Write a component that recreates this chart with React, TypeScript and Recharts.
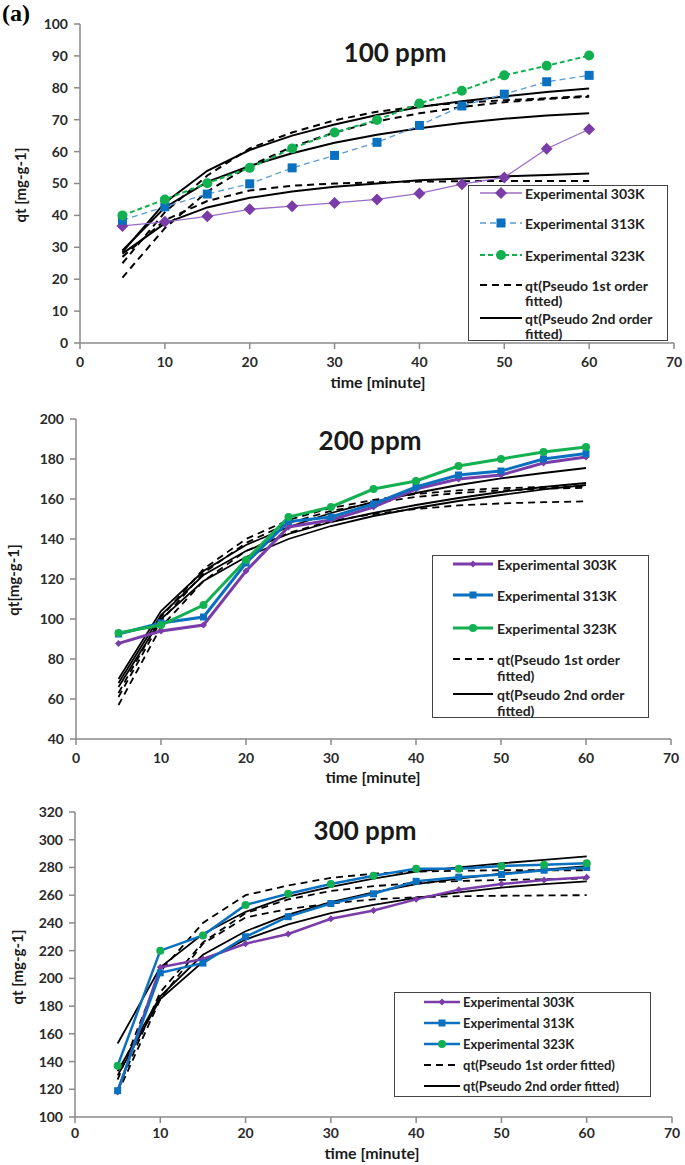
import React from 'react';
import { LineChart, Line, XAxis, YAxis } from 'recharts';

// sampling times (minute)
const TIME = [5, 10, 15, 20, 25, 30, 35, 40, 45, 50, 55, 60];
const X_TICKS = [0, 10, 20, 30, 40, 50, 60, 70];

// ---- 100 ppm ----
const P100_EXP_303 = [36.7, 38, 39.7, 41.9, 42.9, 43.9, 45, 46.9, 49.8, 51.9, 60.9, 67];
const P100_EXP_313 = [38.5, 42.7, 46.7, 49.9, 54.9, 58.8, 62.9, 68.2, 74.3, 78, 81.9, 83.9];
const P100_EXP_323 = [40, 45, 50.1, 54.9, 61, 66, 69.9, 75.1, 79.1, 83.9, 86.9, 90.1];
const P100_PFO_A = [27, 38.5, 44.5, 47.8, 49.3, 50, 50.4, 50.6, 50.7, 50.8, 50.8, 50.8];
const P100_PFO_B = [20.5, 36, 47.5, 55.5, 61.5, 66, 69.5, 72, 74, 75.5, 76.5, 77.2];
const P100_PFO_C = [25, 41, 52.5, 61, 66, 69.8, 72.5, 74.2, 75.3, 76.1, 76.7, 77.5];
const P100_PSO_A = [28, 37.5, 42.5, 45.5, 47.5, 49, 50, 51, 51.6, 52.2, 52.7, 53.1];
const P100_PSO_B = [29, 42.5, 50.5, 55.5, 59.5, 62.8, 65.3, 67.3, 69, 70.3, 71.3, 72];
const P100_PSO_C = [28.5, 44, 54, 60.5, 65, 68.5, 71.5, 74, 75.8, 77.3, 78.7, 79.8];
const P100_TICKS = [0, 10, 20, 30, 40, 50, 60, 70, 80, 90, 100];

// ---- 200 ppm ----
const P200_EXP_303 = [87.8, 94, 97, 124, 146, 149.5, 156, 165, 170, 172, 178, 181];
const P200_EXP_313 = [92.5, 98, 101, 128, 148.7, 151, 157.5, 166, 172, 174, 180, 182.7];
const P200_EXP_323 = [93, 97, 107, 129.5, 151, 156, 165, 169, 176.5, 180, 183.5, 186];
const P200_PFO_A = [57, 96, 119, 134, 143, 149, 152.5, 155, 156.8, 157.8, 158.4, 158.8];
const P200_PFO_B = [61, 99, 123, 138, 148, 154, 158, 161, 163, 164.3, 165.2, 165.6];
const P200_PFO_C = [63, 101, 125, 140, 149.5, 155.5, 159.5, 162.5, 164.3, 165.4, 166, 166.3];
const P200_PSO_A = [66, 100, 119, 131, 140, 146.5, 151.5, 155.5, 159, 162, 164.8, 167];
const P200_PSO_B = [68, 102, 122, 134, 142.5, 148.5, 153, 157, 160.5, 163.5, 166, 168];
const P200_PSO_C = [70, 104, 124, 137, 146, 153, 158.5, 163, 167, 170.3, 173, 175.5];
const P200_TICKS = [40, 60, 80, 100, 120, 140, 160, 180, 200];

// ---- 300 ppm ----
const P300_EXP_303 = [118, 208, 214, 225, 232, 243, 249, 257, 264, 268, 271, 273];
const P300_EXP_313 = [119, 204, 211, 230, 244.5, 254, 261, 270, 273, 275, 278, 280];
const P300_EXP_323 = [137, 220, 231, 253, 261, 268, 274, 279, 279, 281, 282, 283];
const P300_PFO_A = [117, 185, 225, 244, 250, 254, 257, 258.5, 259.3, 259.6, 259.8, 260];
const P300_PFO_B = [120, 190, 226, 247, 257, 263, 266.5, 268.8, 270.2, 271, 271.5, 272];
const P300_PFO_C = [127, 205, 240, 260, 267, 272.5, 275.5, 277, 277.6, 278, 278, 278];
const P300_PSO_A = [130, 185, 212, 228, 239, 247, 253, 258, 262, 265.5, 268, 270];
const P300_PSO_B = [133, 187, 217, 234, 246, 255, 262, 268, 272, 275.5, 278.5, 281];
const P300_PSO_C = [153, 208, 232, 248, 259, 266, 272, 277, 280, 283, 285.5, 288];
const P300_TICKS = [100, 120, 140, 160, 180, 200, 220, 240, 260, 280, 300, 320];

const PURPLE = '#7a3ca8';
const BLUE = '#0a70c0';
const LIGHT_BLUE = '#5a9bd5';
const GREEN = '#12b050';
const FONT = 'Lato, "Open Sans", sans-serif';

const buildRows = (a: number[], b: number[], c: number[], d: number[], e: number[], f: number[], g: number[], h: number[], k: number[]) =>
  TIME.map((t, i) => ({
    t,
    e303: a[i], e313: b[i], e323: c[i],
    pfoA: d[i], pfoB: e[i], pfoC: f[i],
    psoA: g[i], psoB: h[i], psoC: k[i],
  }));

const diamondDot = (color: string, r: number) => (props: any) => {
  const { cx, cy, index } = props;
  if (cx == null || cy == null) return <g key={index} />;
  return <path key={index} d={`M${cx},${cy - r}L${cx + r},${cy}L${cx},${cy + r}L${cx - r},${cy}Z`} fill={color} />;
};
const squareDot = (color: string, r: number) => (props: any) => {
  const { cx, cy, index } = props;
  if (cx == null || cy == null) return <g key={index} />;
  return <rect key={index} x={cx - r} y={cy - r} width={r * 2} height={r * 2} fill={color} />;
};
const circleDot = (color: string, r: number) => (props: any) => {
  const { cx, cy, index } = props;
  if (cx == null || cy == null) return <g key={index} />;
  return <circle key={index} cx={cx} cy={cy} r={r} fill={color} />;
};

interface SeriesStyle {
  key: string;
  stroke: string;
  width: number;
  dash?: string;
  dot: any;
}

interface PanelProps {
  top: number;
  height: number;
  marginTop: number;
  marginBottom: number;
  yWidth: number;
  right: number;
  yDomain: [number, number];
  yTicks: number[];
  rows: any[];
  series: SeriesStyle[];
  tickMargin: number;
}

const Panel: React.FC<PanelProps> = (p) => (
  <div style={{ position: 'absolute', left: 0, top: p.top }}>
    <LineChart
      width={685}
      height={p.height}
      data={p.rows}
      margin={{ top: p.marginTop, right: p.right, left: 0, bottom: p.marginBottom }}
    >
      <XAxis
        dataKey="t"
        type="number"
        domain={[0, 70]}
        ticks={X_TICKS}
        interval={0}
        height={30}
        tickMargin={p.tickMargin}
        stroke="#8a8a8a"
        strokeWidth={1.5}
        tick={{ fill: '#2a2a2a', fontSize: 14, fontWeight: 700, fontFamily: FONT }}
      />
      <XAxis
        xAxisId="top"
        orientation="top"
        type="number"
        domain={[0, 70]}
        height={0}
        tick={false}
        tickLine={false}
        stroke="#444"
        strokeWidth={1.5}
      />
      <YAxis
        type="number"
        domain={p.yDomain}
        ticks={p.yTicks}
        interval={0}
        width={p.yWidth}
        tickMargin={6}
        stroke="#8a8a8a"
        strokeWidth={1.5}
        tick={{ fill: '#2a2a2a', fontSize: 14, fontWeight: 700, fontFamily: FONT }}
      />
      <YAxis
        yAxisId="right"
        orientation="right"
        type="number"
        domain={p.yDomain}
        width={0}
        tick={false}
        tickLine={false}
        stroke="#444"
        strokeWidth={1.5}
      />
      {p.series.map((s) => (
        <Line
          key={s.key}
          type="linear"
          dataKey={s.key}
          stroke={s.stroke}
          strokeWidth={s.width}
          strokeDasharray={s.dash}
          dot={s.dot}
          activeDot={false}
          isAnimationActive={false}
        />
      ))}
    </LineChart>
  </div>
);

const fitSeries = (w: number): SeriesStyle[] => [
  { key: 'pfoA', stroke: '#000', width: w, dash: '7 5', dot: false },
  { key: 'pfoB', stroke: '#000', width: w, dash: '7 5', dot: false },
  { key: 'pfoC', stroke: '#000', width: w, dash: '7 5', dot: false },
  { key: 'psoA', stroke: '#000', width: w, dot: false },
  { key: 'psoB', stroke: '#000', width: w, dot: false },
  { key: 'psoC', stroke: '#000', width: w, dot: false },
];

const SERIES_100: SeriesStyle[] = [
  ...fitSeries(2),
  { key: 'e303', stroke: '#9b6cc4', width: 1.3, dot: diamondDot(PURPLE, 6) },
  { key: 'e313', stroke: LIGHT_BLUE, width: 1.3, dash: '6 4', dot: squareDot(BLUE, 4.5) },
  { key: 'e323', stroke: GREEN, width: 2, dash: '5 3', dot: circleDot(GREEN, 5) },
];

const SERIES_200: SeriesStyle[] = [
  ...fitSeries(1.8),
  { key: 'e303', stroke: PURPLE, width: 3, dot: diamondDot(PURPLE, 3.5) },
  { key: 'e313', stroke: BLUE, width: 3, dot: squareDot(BLUE, 3.5) },
  { key: 'e323', stroke: GREEN, width: 3, dot: circleDot(GREEN, 4) },
];

const SERIES_300: SeriesStyle[] = [
  ...fitSeries(1.8),
  { key: 'e303', stroke: PURPLE, width: 2.5, dot: diamondDot(PURPLE, 3.5) },
  { key: 'e313', stroke: BLUE, width: 2.5, dot: squareDot(BLUE, 3.5) },
  { key: 'e323', stroke: BLUE, width: 2.5, dot: circleDot(GREEN, 4) },
];

interface LegendRow {
  y: number;
  text: string;
  text2?: string;
  y2?: number;
  kind: 'e303' | 'e313' | 'e323' | 'pfo' | 'pso';
}

interface LegendProps {
  left: number;
  top: number;
  width: number;
  height: number;
  x1: number;
  x2: number;
  tx: number;
  fontSize: number;
  rows: LegendRow[];
  styles: Record<string, { stroke: string; width: number; dash?: string; marker: (x: number, y: number) => React.ReactNode }>;
}

const BoxLegend: React.FC<LegendProps> = (p) => (
  <div
    style={{
      position: 'absolute',
      left: p.left,
      top: p.top,
      width: p.width,
      height: p.height,
      border: '1.5px solid #444',
      background: '#fff',
      boxSizing: 'border-box',
    }}
  >
    <svg width={p.width} height={p.height} style={{ position: 'absolute', left: -1.5, top: -1.5, overflow: 'visible' }}>
      {p.rows.map((r) => {
        const s = p.styles[r.kind];
        const y = r.y - p.top;
        const a = p.x1 - p.left;
        const b = p.x2 - p.left;
        return (
          <g key={r.text + r.y}>
            <line x1={a} x2={b} y1={y} y2={y} stroke={s.stroke} strokeWidth={s.width} strokeDasharray={s.dash} />
            {s.marker((a + b) / 2, y)}
            <text x={p.tx - p.left} y={y} dominantBaseline="central" fontFamily={FONT} fontWeight={700} fontSize={p.fontSize} fill="#222">
              {r.text}
            </text>
            {r.text2 && (
              <text x={p.tx - p.left} y={(r.y2 as number) - p.top} dominantBaseline="central" fontFamily={FONT} fontWeight={700} fontSize={p.fontSize} fill="#222">
                {r.text2}
              </text>
            )}
          </g>
        );
      })}
    </svg>
  </div>
);

const noMarker = () => null;
const dia = (c: string, r: number) => (x: number, y: number) => <path d={`M${x},${y - r}L${x + r},${y}L${x},${y + r}L${x - r},${y}Z`} fill={c} />;
const sq = (c: string, r: number) => (x: number, y: number) => <rect x={x - r} y={y - r} width={r * 2} height={r * 2} fill={c} />;
const circ = (c: string, r: number) => (x: number, y: number) => <circle cx={x} cy={y} r={r} fill={c} />;

const fitLegendStyles = {
  pfo: { stroke: '#000', width: 2, dash: '7 5', marker: noMarker },
  pso: { stroke: '#000', width: 2, marker: noMarker },
};

const Text: React.FC<{ x: number; y: number; size: number; rotate?: boolean; children: React.ReactNode }> = ({ x, y, size, rotate, children }) => (
  <div
    style={{
      position: 'absolute',
      left: x,
      top: y,
      transform: `translate(-50%, -50%)${rotate ? ' rotate(-90deg)' : ''}`,
      fontFamily: FONT,
      fontWeight: 700,
      fontSize: size,
      lineHeight: 1.2,
      color: '#1a1a1a',
      whiteSpace: 'nowrap',
    }}
  >
    {children}
  </div>
);

const App: React.FC = () => {
  const rows100 = buildRows(P100_EXP_303, P100_EXP_313, P100_EXP_323, P100_PFO_A, P100_PFO_B, P100_PFO_C, P100_PSO_A, P100_PSO_B, P100_PSO_C);
  const rows200 = buildRows(P200_EXP_303, P200_EXP_313, P200_EXP_323, P200_PFO_A, P200_PFO_B, P200_PFO_C, P200_PSO_A, P200_PSO_B, P200_PSO_C);
  const rows300 = buildRows(P300_EXP_303, P300_EXP_313, P300_EXP_323, P300_PFO_A, P300_PFO_B, P300_PFO_C, P300_PSO_A, P300_PSO_B, P300_PSO_C);

  return (
    <div style={{ position: 'absolute', left: 0, top: 0, width: 685, height: 1165, background: '#fff', overflow: 'hidden' }}>
      {/* 100 ppm */}
      <Panel top={0} height={390} marginTop={24} marginBottom={17} yWidth={80} right={11}
        yDomain={[0, 100]} yTicks={P100_TICKS} rows={rows100} series={SERIES_100} tickMargin={8} />
      {/* 200 ppm */}
      <Panel top={390} height={390} marginTop={29} marginBottom={11} yWidth={76} right={14}
        yDomain={[40, 200]} yTicks={P200_TICKS} rows={rows200} series={SERIES_200} tickMargin={8} />
      {/* 300 ppm */}
      <Panel top={780} height={385} marginTop={32} marginBottom={18} yWidth={75} right={13}
        yDomain={[100, 320]} yTicks={P300_TICKS} rows={rows300} series={SERIES_300} tickMargin={5} />

      <div style={{ position: 'absolute', left: 2, top: 1, lineHeight: 1, fontFamily: '"Liberation Serif", serif', fontWeight: 700, fontSize: 24 }}>(a)</div>

      <Text x={395} y={53} size={26}>100 ppm</Text>
      <Text x={378} y={382} size={16}>time [minute]</Text>
      <Text x={20} y={185} size={15} rotate>qt [mg-g-1]</Text>

      <Text x={370} y={441} size={26}>200 ppm</Text>
      <Text x={373} y={777} size={16}>time [minute]</Text>
      <Text x={13} y={580} size={15} rotate>qt[mg-g-1]</Text>

      <Text x={365} y={831} size={26}>300 ppm</Text>
      <Text x={372} y={1153} size={16}>time [minute]</Text>
      <Text x={17} y={967} size={15} rotate>qt [mg-g-1]</Text>

      <BoxLegend
        left={468} top={185} width={200} height={156} x1={480} x2={522} tx={525} fontSize={14}
        rows={[
          { y: 193, text: 'Experimental 303K', kind: 'e303' },
          { y: 223, text: 'Experimental 313K', kind: 'e313' },
          { y: 255, text: 'Experimental 323K', kind: 'e323' },
          { y: 285, text: 'qt(Pseudo 1st order', text2: 'fitted)', y2: 300, kind: 'pfo' },
          { y: 318, text: 'qt(Pseudo 2nd order', text2: 'fitted)', y2: 333, kind: 'pso' },
        ]}
        styles={{
          e303: { stroke: '#9b6cc4', width: 1.3, marker: dia(PURPLE, 6) },
          e313: { stroke: LIGHT_BLUE, width: 1.3, dash: '6 4', marker: sq(BLUE, 4.5) },
          e323: { stroke: GREEN, width: 2, dash: '5 3', marker: circ(GREEN, 5) },
          ...fitLegendStyles,
        }}
      />

      <BoxLegend
        left={432} top={555} width={217} height={163} x1={453} x2={493} tx={497} fontSize={14}
        rows={[
          { y: 564, text: 'Experimental 303K', kind: 'e303' },
          { y: 595, text: 'Experimental 313K', kind: 'e313' },
          { y: 628, text: 'Experimental 323K', kind: 'e323' },
          { y: 659, text: 'qt(Pseudo 1st order', text2: 'fitted)', y2: 675, kind: 'pfo' },
          { y: 694, text: 'qt(Pseudo 2nd order', text2: 'fitted)', y2: 710, kind: 'pso' },
        ]}
        styles={{
          e303: { stroke: PURPLE, width: 3, marker: dia(PURPLE, 3.5) },
          e313: { stroke: BLUE, width: 3, marker: sq(BLUE, 3.5) },
          e323: { stroke: GREEN, width: 3, marker: circ(GREEN, 4) },
          ...fitLegendStyles,
        }}
      />

      <BoxLegend
        left={394} top={992} width={257} height={105} x1={424} x2={460} tx={463} fontSize={13}
        rows={[
          { y: 1002, text: 'Experimental 303K', kind: 'e303' },
          { y: 1023, text: 'Experimental 313K', kind: 'e313' },
          { y: 1044, text: 'Experimental 323K', kind: 'e323' },
          { y: 1065, text: 'qt(Pseudo 1st order fitted)', kind: 'pfo' },
          { y: 1086, text: 'qt(Pseudo 2nd order fitted)', kind: 'pso' },
        ]}
        styles={{
          e303: { stroke: PURPLE, width: 2.5, marker: dia(PURPLE, 3.5) },
          e313: { stroke: BLUE, width: 2.5, marker: sq(BLUE, 3.5) },
          e323: { stroke: BLUE, width: 2.5, marker: circ(GREEN, 4) },
          ...fitLegendStyles,
        }}
      />
    </div>
  );
};

export default App;
